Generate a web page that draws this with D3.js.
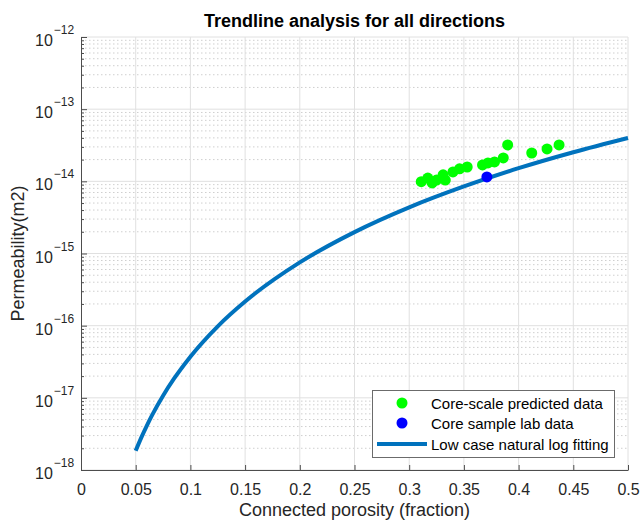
<!DOCTYPE html>
<html>
<head>
<meta charset="utf-8">
<script src="https://cdn.jsdelivr.net/npm/d3@7"></script>
<style>
  body { margin: 0; background: #fff; }
  svg { font-family: "Liberation Sans", Arial, sans-serif; }
</style>
</head>
<body>
<svg id="mainSvg" width="641" height="521"></svg>
<script>
// chart values
let predPhi = [0.311, 0.317, 0.321, 0.325, 0.331, 0.333, 0.340, 0.346, 0.353, 0.367, 0.372, 0.378, 0.386, 0.390, 0.412, 0.426, 0.437];
let predK = [0.99e-14, 1.11e-14, 0.95e-14, 1.04e-14, 1.23e-14, 1.04e-14, 1.35e-14, 1.49e-14, 1.58e-14, 1.69e-14, 1.80e-14, 1.86e-14, 2.11e-14, 3.19e-14, 2.47e-14, 2.81e-14, 3.19e-14];

let labPhi = [0.371];
let labK = [1.15e-14];

let fitPhi = [0.05, 0.055, 0.06, 0.065, 0.075, 0.085, 0.1, 0.125, 0.15, 0.2, 0.25, 0.3, 0.35, 0.4, 0.45, 0.5];
let fitK = [1.85e-18, 2.79e-18, 4.06e-18, 5.75e-18, 1.07e-17, 1.84e-17, 3.72e-17, 9.8e-17, 2.16e-16, 7.52e-16, 1.98e-15, 4.36e-15, 8.49e-15, 1.52e-14, 2.53e-14, 3.99e-14];

let xTicks = [0, 0.05, 0.1, 0.15, 0.2, 0.25, 0.3, 0.35, 0.4, 0.45, 0.5];
let xTickLabels = ["0", "0.05", "0.1", "0.15", "0.2", "0.25", "0.3", "0.35", "0.4", "0.45", "0.5"];
let yExponents = [-18, -17, -16, -15, -14, -13, -12];

let legendLabels = ["Core-scale predicted data", "Core sample lab data", "Low case natural log fitting"];

let plotLeft = 81, plotRight = 628, plotTop = 37, plotBottom = 470;

let svg = d3.select("#mainSvg");

let x = d3.scaleLinear().domain([0, 0.5]).range([plotLeft, plotRight]);
let y = d3.scaleLog().domain([1e-18, 1e-12]).range([plotBottom, plotTop]);

// minor values for the log axis
let yMinor = [];
yExponents.slice(0, -1).forEach((e) => {
    for (let m = 2; m <= 9; m++) yMinor.push(m * Math.pow(10, e));
});
let yMajor = yExponents.map((e) => Math.pow(10, e));

// grid
let grid = svg.append("g");
grid.append("g").selectAll("line")
    .data(yMinor)
    .join("line")
    .attr("x1", plotLeft).attr("x2", plotRight)
    .attr("y1", (d) => y(d)).attr("y2", (d) => y(d))
    .attr("stroke", "#cfcfcf")
    .attr("stroke-width", 1)
    .attr("stroke-dasharray", "1.5,2.5");
grid.append("g").selectAll("line")
    .data(yMajor)
    .join("line")
    .attr("x1", plotLeft).attr("x2", plotRight)
    .attr("y1", (d) => y(d)).attr("y2", (d) => y(d))
    .attr("stroke", "#e0e0e0");
grid.append("g").selectAll("line")
    .data(xTicks.slice(1))
    .join("line")
    .attr("x1", (d) => x(d)).attr("x2", (d) => x(d))
    .attr("y1", plotTop).attr("y2", plotBottom)
    .attr("stroke", "#e0e0e0");

// axes
let axisColor = "#4d4d4d";
let xAxis = svg.append("g")
    .attr("transform", `translate(0,${plotBottom})`)
    .call(d3.axisBottom(x).tickValues(xTicks).tickSizeInner(-5).tickSizeOuter(0)
        .tickPadding(14).tickFormat((d, i) => xTickLabels[i]));
xAxis.select(".domain").attr("stroke", axisColor);
xAxis.selectAll(".tick line").attr("stroke", axisColor);
xAxis.selectAll(".tick text").attr("font-size", 16).attr("fill", "#262626");

let yMinorAxis = svg.append("g")
    .attr("transform", `translate(${plotLeft},0)`)
    .call(d3.axisLeft(y).tickValues(yMinor).tickSizeInner(-3).tickSizeOuter(0).tickFormat(""));
yMinorAxis.select(".domain").remove();
yMinorAxis.selectAll(".tick line").attr("stroke", axisColor);

let yAxis = svg.append("g")
    .attr("transform", `translate(${plotLeft},0)`)
    .call(d3.axisLeft(y).tickValues(yMajor).tickSizeInner(-6).tickSizeOuter(0).tickFormat(""));
yAxis.select(".domain").attr("stroke", axisColor);
yAxis.selectAll(".tick line").attr("stroke", axisColor);

let yLab = svg.append("g")
    .selectAll("text")
    .data(yExponents)
    .join("text")
    .attr("x", 35)
    .attr("y", (d) => y(Math.pow(10, d)) + 9)
    .attr("fill", "#262626")
    .attr("font-size", 16);
yLab.append("tspan").text("10");
yLab.append("tspan")
    .attr("dx", 1)
    .attr("dy", -12)
    .attr("font-size", 12)
    .text((d) => "\u2212" + Math.abs(d));

// titles
svg.append("text")
    .attr("x", (plotLeft + plotRight) / 2)
    .attr("y", 27)
    .attr("text-anchor", "middle")
    .attr("font-weight", "bold")
    .attr("font-size", 18)
    .attr("fill", "#000")
    .text("Trendline analysis for all directions");

svg.append("text")
    .attr("x", (plotLeft + plotRight) / 2)
    .attr("y", 516)
    .attr("text-anchor", "middle")
    .attr("font-size", 18)
    .attr("fill", "#262626")
    .text("Connected porosity (fraction)");

svg.append("text")
    .attr("transform", `translate(24,${(plotTop + plotBottom) / 2}) rotate(-90)`)
    .attr("text-anchor", "middle")
    .attr("font-size", 18)
    .attr("fill", "#262626")
    .text("Permeability(m2)");

// fitted curve
let line = d3.line()
    .x((d, i) => x(fitPhi[i]))
    .y((d) => y(d))
    .curve(d3.curveMonotoneX);

svg.append("path")
    .datum(fitK)
    .attr("d", line)
    .attr("fill", "none")
    .attr("stroke", "#0072BD")
    .attr("stroke-width", 4);

// points
svg.append("g")
    .selectAll("circle")
    .data(predK)
    .join("circle")
    .attr("cx", (d, i) => x(predPhi[i]))
    .attr("cy", (d) => y(d))
    .attr("r", 5.5)
    .attr("fill", "#00ff00");

svg.append("g")
    .selectAll("circle")
    .data(labK)
    .join("circle")
    .attr("cx", (d, i) => x(labPhi[i]))
    .attr("cy", (d) => y(d))
    .attr("r", 5.5)
    .attr("fill", "#0000ff");

// legend
let lg = svg.append("g");
lg.append("rect")
    .attr("x", 372.5).attr("y", 390.5)
    .attr("width", 242).attr("height", 67)
    .attr("fill", "#fff")
    .attr("stroke", "#6b6b6b");
lg.append("circle").attr("cx", 402).attr("cy", 403).attr("r", 5.5).attr("fill", "#00ff00");
lg.append("circle").attr("cx", 402).attr("cy", 423).attr("r", 5.5).attr("fill", "#0000ff");
lg.append("line")
    .attr("x1", 377).attr("x2", 427)
    .attr("y1", 444).attr("y2", 444)
    .attr("stroke", "#0072BD").attr("stroke-width", 4);
lg.selectAll("text")
    .data(legendLabels)
    .join("text")
    .attr("x", 431)
    .attr("y", (d, i) => 408.5 + i * 20.5)
    .attr("font-size", 15)
    .attr("fill", "#000")
    .text((d) => d);
</script>
</body>
</html>
